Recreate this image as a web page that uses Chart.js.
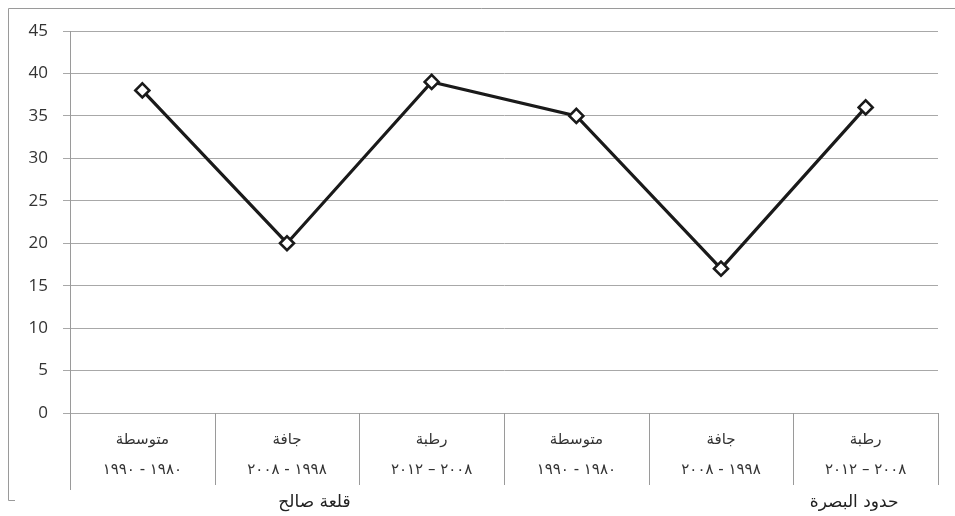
<!DOCTYPE html>
<html>
<head>
<meta charset="utf-8">
<script src="https://cdn.jsdelivr.net/npm/chart.js@4/dist/chart.umd.min.js"></script>
<style>
  html, body { margin: 0; padding: 0; background: #ffffff; }
  #wrap { width: 955px; height: 516px; position: relative; }
</style>
</head>
<body>
<div id="wrap"><canvas id="c" width="955" height="516"></canvas></div>
<script>
// Rainfall periods at two stations
const periodTypes = ['متوسطة', 'جافة', 'رطبة', 'متوسطة', 'جافة', 'رطبة'];
const periodYears = ['١٩٨٠ - ١٩٩٠', '١٩٩٨ - ٢٠٠٨', '٢٠٠٨ – ٢٠١٢', '١٩٨٠ - ١٩٩٠', '١٩٩٨ - ٢٠٠٨', '٢٠٠٨ – ٢٠١٢'];
const stations = ['قلعة صالح', 'حدود البصرة'];
const values = [38, 20, 39, 35, 17, 36];
const yTicks = [0, 5, 10, 15, 20, 25, 30, 35, 40, 45];

const arabicFont = '"DejaVu Sans", sans-serif';

// Frame, category separators and station names under the axis
const framePlugin = {
  id: 'frame',
  beforeDraw(chart) {
    const ctx = chart.ctx;
    ctx.save();
    ctx.strokeStyle = '#9a9a9a';
    ctx.lineWidth = 1;
    ctx.beginPath();
    ctx.moveTo(955, 8.5); ctx.lineTo(8.5, 8.5);
    ctx.lineTo(8.5, 500.5); ctx.lineTo(15, 500.5);
    ctx.stroke();
    ctx.restore();
  },
  afterDraw(chart) {
    const ctx = chart.ctx;
    const xs = chart.scales.x;
    const area = chart.chartArea;
    ctx.save();
    ctx.strokeStyle = '#9a9a9a';
    ctx.lineWidth = 1;
    const n = periodTypes.length;
    const bounds = [area.left];
    for (let i = 0; i < n - 1; i++) {
      bounds.push((xs.getPixelForValue(i) + xs.getPixelForValue(i + 1)) / 2);
    }
    bounds.push(area.right);
    ctx.beginPath();
    bounds.forEach((b, i) => {
      const x = Math.round(b) + 0.5;
      const yEnd = i === 0 ? 490 : 485;
      ctx.moveTo(x, area.bottom);
      ctx.lineTo(x, yEnd);
    });
    ctx.stroke();

    // station names, one per group of three periods
    ctx.fillStyle = '#222';
    ctx.font = '17px ' + arabicFont;
    ctx.textAlign = 'center';
    ctx.textBaseline = 'middle';
    const step = xs.getPixelForValue(1) - xs.getPixelForValue(0);
    ctx.fillText(stations[0], xs.getPixelForValue(1) + 0.19 * step, 503);
    ctx.fillText(stations[1], xs.getPixelForValue(4) + 0.92 * step, 503);
    ctx.restore();
  }
};

new Chart(document.getElementById('c'), {
  type: 'line',
  data: {
    labels: periodTypes.map((t, i) => [t, periodYears[i]]),
    datasets: [{
      data: values,
      borderColor: '#1a1a1a',
      borderWidth: 3.2,
      tension: 0,
      pointStyle: 'rectRot',
      pointRadius: 7,
      pointBorderWidth: 2.6,
      pointBackgroundColor: '#ffffff',
      pointBorderColor: '#1a1a1a'
    }]
  },
  options: {
    responsive: false,
    animation: false,
    devicePixelRatio: 1,
    layout: { padding: { top: 31, right: 17, bottom: 0, left: 0 } },
    plugins: {
      legend: { display: false },
      tooltip: { enabled: false }
    },
    scales: {
      x: {
        type: 'category',
        offset: true,
        grid: { display: false },
        border: { display: false },
        ticks: {
          color: '#333',
          font: { family: arabicFont, size: 15, lineHeight: 2.0 },
          padding: 4,
          maxRotation: 0,
          autoSkip: false
        },
        afterFit(scale) { scale.height = 103; }
      },
      y: {
        min: 0,
        max: 45,
        afterBuildTicks(scale) { scale.ticks = yTicks.map(v => ({ value: v })); },
        grid: {
          color: '#a8a8a8',
          lineWidth: 1,
          tickLength: 7,
          drawTicks: true
        },
        border: { display: true, color: '#9a9a9a', width: 1 },
        ticks: {
          color: '#333',
          font: { family: '"Open Sans", sans-serif', size: 17 },
          padding: 15
        },
        afterFit(scale) { scale.width = 70; }
      }
    }
  },
  plugins: [framePlugin]
});
</script>
</body>
</html>
